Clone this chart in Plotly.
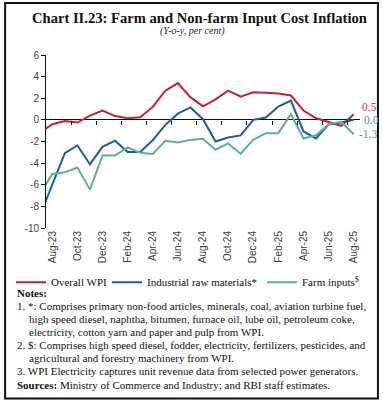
import plotly.graph_objects as go

# ---------------- data ----------------
months = ["Jul-23", "Aug-23", "Sep-23", "Oct-23", "Nov-23", "Dec-23", "Jan-24", "Feb-24",
          "Mar-24", "Apr-24", "May-24", "Jun-24", "Jul-24", "Aug-24", "Sep-24", "Oct-24",
          "Nov-24", "Dec-24", "Jan-25", "Feb-25", "Mar-25", "Apr-25", "May-25", "Jun-25",
          "Jul-25", "Aug-25"]
overall_wpi = [-1.2, -0.4, -0.1, -0.25, 0.4, 0.85, 0.35, 0.15, 0.25, 1.2, 2.7, 3.4, 2.1,
               1.25, 1.9, 2.7, 2.15, 2.55, 2.5, 2.43, 2.25, 0.86, 0.15, -0.2, -0.55, 0.52]
industrial_raw = [-8.9, -6.0, -3.07, -2.37, -4.1, -2.5, -1.92, -2.97, -2.97, -1.88, -0.46,
                  0.57, 1.15, 0.06, -2.0, -1.63, -1.44, 0.0, 0.22, 1.23, 1.78, -1.07,
                  -1.72, -0.42, -0.24, 0.02]
farm_inputs = [-6.9, -5.0, -4.85, -4.4, -6.45, -3.3, -3.29, -2.55, -3.05, -3.15, -1.94,
               -2.09, -1.85, -1.75, -2.76, -2.18, -3.13, -1.84, -1.23, -1.23, 0.55, -1.72,
               -1.42, -0.4, -0.18, -1.33]
series_names = ["Overall WPI", "Industrial raw materials*", "Farm inputs<sup>$</sup>"]
end_labels = ["0.5", "0.0", "-1.3"]
tick_months = months[1::2]
y_ticks = [6, 4, 2, 0, -2, -4, -6, -8, -10]
y_tick_text = [str(v) for v in y_ticks]

x_idx = list(range(len(months)))
tick_pos = x_idx[1::2]
boundary_ticks = [p - 0.5 for p in tick_pos[1:]]

RED, BLUE, GREEN = "#cc1f2f", "#1d5ba6", "#5db38a"
LBL_RED, LBL_BLUE, LBL_GREEN = "#d03a3f", "#5b8fd0", "#4fa57c"

# ---------------- layout geometry (pixels) ----------------
W, H = 383, 406
PL, PR, PT, PB = 45, 360, 55, 228.3
YMIN, YMAX = -10, 6
XMIN, XMAX = 0.5, len(months) - 0.5


def px_x(X):
    return (X - PL) / (PR - PL)


def px_y(Y):
    return (PB - Y) / (PB - PT)


SERIF = "Liberation Serif"
SANS = "Liberation Sans"

fig = go.Figure()
legend_ids = ["legend", "legend2", "legend3"]
for name, vals, col, lg in zip(series_names, [overall_wpi, industrial_raw, farm_inputs],
                               [RED, BLUE, GREEN], legend_ids):
    fig.add_trace(go.Scatter(x=x_idx, y=vals, mode="lines", name=name, legend=lg,
                             line=dict(color=col, width=2), cliponaxis=True))

# helper trace for the zero-line tick axis
fig.add_trace(go.Scatter(x=[x_idx[1]], y=[0], xaxis="x2", mode="markers",
                         marker=dict(opacity=0), showlegend=False, hoverinfo="skip"))

# end labels
for lbl, vals, col, dy, xs in [(end_labels[0], overall_wpi, LBL_RED, 0.7, 6),
                               (end_labels[1], industrial_raw, LBL_BLUE, 0.0, 8),
                               (end_labels[2], farm_inputs, LBL_GREEN, 0.0, 3)]:
    fig.add_annotation(x=x_idx[-1], y=vals[-1] + dy, text=lbl, showarrow=False,
                       xanchor="left", xshift=xs, yanchor="middle",
                       font=dict(family=SERIF, size=11.5, color=col))

# title / subtitle
fig.add_annotation(x=px_x(199), y=px_y(18), xref="paper", yref="paper",
                   text="<b>Chart II.23: Farm and Non-farm Input Cost Inflation</b>",
                   showarrow=False, xanchor="center", yanchor="middle",
                   font=dict(family=SERIF, size=14.6, color="#111111"))
fig.add_annotation(x=px_x(192), y=px_y(31), xref="paper", yref="paper",
                   text="<i>(Y-o-y, per cent)</i>", showarrow=False,
                   xanchor="center", yanchor="middle",
                   font=dict(family=SERIF, size=10, color="#222222"))

# notes
note_lines = [
    ("<b>Notes:</b>", 14, 293),
    ("1. *: Comprises primary non-food articles, minerals, coal, aviation turbine fuel,", 14, 306),
    ("high speed diesel, naphtha, bitumen, furnace oil, lube oil, petroleum coke,", 26, 319.2),
    ("electricity, cotton yarn and paper and pulp from WPI.", 26, 332.4),
    ("2. $: Comprises high speed diesel, fodder, electricity, fertilizers, pesticides, and", 14, 345.6),
    ("agricultural and forestry machinery from WPI.", 26, 358.8),
    ("3. WPI Electricity captures unit revenue data from selected power generators.", 14, 372),
    ("<b>Sources:</b> Ministry of Commerce and Industry; and RBI staff estimates.", 14, 385.2),
]
for txt, X, Y in note_lines:
    fig.add_annotation(x=px_x(X), y=px_y(Y), xref="paper", yref="paper", text=txt,
                       showarrow=False, xanchor="left", yanchor="middle",
                       font=dict(family=SERIF, size=11, color="#111111"))

# outer frame
fig.add_shape(type="rect", xref="paper", yref="paper",
              x0=px_x(4), x1=px_x(378), y0=px_y(399), y1=px_y(3),
              line=dict(color="#111111", width=2), layer="above")

legend_style = dict(orientation="h", yanchor="top", xanchor="left",
                    font=dict(family=SERIF, size=11, color="#111111"),
                    itemwidth=30, bgcolor="rgba(0,0,0,0)", borderwidth=0)
fig.update_layout(
    width=W, height=H,
    margin=dict(l=PL, r=W - PR, t=PT, b=H - PB),
    paper_bgcolor="white", plot_bgcolor="white",
    showlegend=True,
    legend=dict(x=px_x(11), y=px_y(268), **legend_style),
    legend2=dict(x=px_x(107), y=px_y(268), **legend_style),
    legend3=dict(x=px_x(262), y=px_y(268), **legend_style),
    xaxis=dict(range=[XMIN, XMAX], tickmode="array", tickvals=tick_pos, ticktext=tick_months,
               tickangle=-90, showline=False, ticks="", showgrid=False, zeroline=False,
               tickfont=dict(family=SANS, size=10, color="#404040")),
    xaxis2=dict(overlaying="x", matches="x", anchor="free", side="bottom",
                position=(0 - YMIN) / (YMAX - YMIN),
                tickmode="array", tickvals=boundary_ticks, ticks="outside", ticklen=4,
                tickcolor="#111111", tickwidth=1, showticklabels=False, showline=False,
                showgrid=False, zeroline=False),
    yaxis=dict(range=[YMIN, YMAX], tickmode="array", tickvals=y_ticks, ticktext=y_tick_text,
               ticks="outside", ticklen=4, tickcolor="#111111", showline=True,
               linecolor="#111111", linewidth=1, showgrid=False, zeroline=True,
               zerolinecolor="#111111", zerolinewidth=1.3,
               tickfont=dict(family=SANS, size=10, color="#404040")),
)

fig.write_html("out.html", config={"displayModeBar": False},
               post_script="document.body.style.margin='0';document.body.style.padding='0';")
